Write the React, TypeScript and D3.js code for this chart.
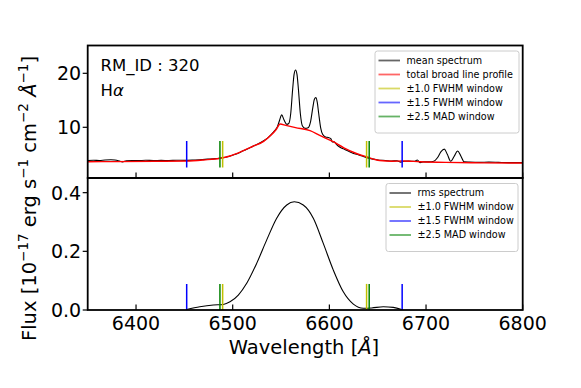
import React from "react";
import * as d3 from "d3";

// ---------- data ----------
const xTicks = [6400, 6500, 6600, 6700, 6800];
const yTicksTop = [10, 20];
const yTicksBottom = [0.0, 0.2, 0.4];
const yTickLabelsBottom = ["0.0", "0.2", "0.4"];

// mean spectrum [wavelength, flux]
const meanWave = [
  6350, 6356, 6362, 6368, 6374, 6378, 6383, 6386, 6390, 6396, 6402, 6410, 6418, 6426, 6434,
  6442, 6450, 6458, 6466, 6474, 6482, 6490, 6496, 6502, 6508, 6514, 6520, 6526, 6532, 6536,
  6540, 6543, 6546, 6548.5, 6550.7, 6553, 6556, 6558, 6560, 6562, 6563.5, 6565, 6566.5, 6568,
  6570, 6572, 6575, 6578, 6580.5, 6583, 6584.5, 6586, 6587.5, 6589, 6591, 6593, 6596, 6599,
  6601.5, 6603, 6605, 6607.5, 6611, 6616, 6622, 6628, 6634, 6640, 6646, 6652, 6658, 6664,
  6670, 6674, 6677, 6682, 6688, 6691, 6694, 6697, 6703, 6708, 6712, 6715.5, 6719, 6722,
  6725.5, 6729, 6732.7, 6736, 6739.5, 6745, 6755, 6765, 6775, 6785, 6795, 6800,
];
const meanFlux = [
  3.85, 3.9, 3.85, 3.95, 4.0, 3.95, 3.75, 3.6, 3.8, 3.85, 3.82, 3.9, 3.85, 3.88, 3.85,
  3.9, 3.88, 3.92, 4.0, 4.1, 4.2, 4.35, 4.6, 4.95, 5.4, 5.9, 6.4, 6.9, 7.5, 8.0,
  8.7, 9.3, 10.0, 11.3, 12.3, 11.4, 10.55, 10.7, 12.5, 17.0, 19.8, 20.6, 19.8, 17.0,
  12.5, 10.3, 9.8, 9.9, 11.0, 13.8, 15.2, 15.5, 14.6, 12.5, 9.9, 8.7, 8.2, 8.1,
  7.9, 7.3, 7.3, 6.8, 6.3, 5.9, 5.4, 5.0, 4.7, 4.3, 4.1, 3.9, 3.85, 3.75,
  3.8, 3.55, 3.7, 3.75, 3.7, 3.95, 3.45, 3.6, 3.6, 3.7, 4.4, 5.5, 5.95, 5.0,
  3.7, 4.6, 5.6, 4.7, 3.6, 3.55, 3.5, 3.55, 3.5, 3.45, 3.45, 3.45,
];

// total broad line profile
const broadWave = [
  6350, 6380, 6420, 6452, 6470, 6487, 6497, 6510, 6520, 6532, 6540, 6545, 6549, 6555, 6565,
  6580, 6590, 6604, 6615, 6628, 6639, 6652, 6665, 6676, 6694, 6720, 6760, 6800,
];
const broadFlux = [
  3.63, 3.65, 3.7, 3.75, 3.95, 4.26, 4.69, 5.6, 6.4, 7.4, 8.6, 9.6, 10.6, 10.35, 9.95,
  9.37, 8.5, 7.33, 6.2, 5.15, 4.5, 3.85, 3.72, 3.76, 3.62, 3.5, 3.42, 3.39,
];

// rms spectrum
const rmsWave = [
  6452.4, 6466, 6480, 6490.3, 6497.2, 6505.8, 6514.5, 6524.8, 6535.2, 6545.5, 6555.9, 6563.7,
  6573, 6583.4, 6593.7, 6604.1, 6614.4, 6624.8, 6635.1, 6643.8, 6655.8, 6666.1, 6674.8,
];
const rmsFlux = [
  0.002, 0.011, 0.017, 0.019, 0.028, 0.051, 0.091, 0.159, 0.239, 0.313, 0.358, 0.369,
  0.358, 0.313, 0.227, 0.136, 0.062, 0.02, 0.006, 0.007, 0.011, 0.009, 0.002,
];

// window edges
const fwhm10 = [6489.6, 6638.5];
const fwhm15 = [6452.4, 6675.3];
const mad25 = [6486.8, 6641.2];
const topMarkerRange = [2.56, 7.46];
const bottomMarkerRange = [0, 0.089];

const topLegend = [
  { label: "mean spectrum", color: "#000000" },
  { label: "total broad line profile", color: "#ff0000" },
  { label: "\u00b11.0 FWHM window", color: "#bfbf00" },
  { label: "\u00b11.5 FWHM window", color: "#0000ff" },
  { label: "\u00b12.5 MAD window", color: "#008000" },
];
const bottomLegend = [
  { label: "rms spectrum", color: "#000000" },
  { label: "\u00b11.0 FWHM window", color: "#bfbf00" },
  { label: "\u00b11.5 FWHM window", color: "#0000ff" },
  { label: "\u00b12.5 MAD window", color: "#008000" },
];

// ---------- layout ----------
const W = 581;
const H = 388;
const L = 87.7;
const R = 522.7;
const T1 = 45.5;
const MID = 178;
const B2 = 310;
const FONT = "DejaVu Sans, sans-serif";

export default function App() {
  const x = d3.scaleLinear().domain([6350, 6800]).range([L, R]);
  const yT = d3.scaleLinear().domain([0.61, 25.15]).range([MID, T1]);
  const yB = d3.scaleLinear().domain([0, 0.45]).range([B2, MID]);

  const meanPts = meanWave.map((w, i) => [w, meanFlux[i]] as [number, number]);
  const broadPts = broadWave.map((w, i) => [w, broadFlux[i]] as [number, number]);
  const rmsPts = rmsWave.map((w, i) => [w, rmsFlux[i]] as [number, number]);

  const lineT = d3
    .line<[number, number]>()
    .x((d) => x(d[0]))
    .y((d) => yT(d[1]))
    .curve(d3.curveMonotoneX);
  const lineB = d3
    .line<[number, number]>()
    .x((d) => x(d[0]))
    .y((d) => yB(d[1]))
    .curve(d3.curveMonotoneX);

  const markers = (yScale: any, range: number[], key: string) => (
    <g key={key}>
      {mad25.map((w, i) => (
        <line key={"g" + i} x1={x(w)} x2={x(w)} y1={yScale(range[0])} y2={yScale(range[1])} stroke="#008000" strokeWidth={1.5} />
      ))}
      {fwhm10.map((w, i) => (
        <line key={"y" + i} x1={x(w)} x2={x(w)} y1={yScale(range[0])} y2={yScale(range[1])} stroke="#bfbf00" strokeWidth={1.5} />
      ))}
      {fwhm15.map((w, i) => (
        <line key={"b" + i} x1={x(w)} x2={x(w)} y1={yScale(range[0])} y2={yScale(range[1])} stroke="#0000ff" strokeWidth={1.5} />
      ))}
    </g>
  );

  const legend = (items: { label: string; color: string }[], bx: number, by: number, bw: number) => {
    const rowH = 14;
    const bh = items.length * rowH + 12;
    return (
      <g>
        <rect x={bx} y={by} width={bw} height={bh} rx={2.5} fill="white" fillOpacity={0.8} stroke="#cccccc" strokeWidth={1} />
        {items.map((it, i) => {
          const cy = by + 9.5 + i * rowH;
          return (
            <g key={i}>
              <line x1={bx + 3.5} x2={bx + 25} y1={cy} y2={cy} stroke={it.color} strokeWidth={1.8} strokeOpacity={0.6} />
              <text x={bx + 31.5} y={cy} dy="0.35em" fontSize={9.6} fontFamily={FONT} fill="#000">
                {it.label}
              </text>
            </g>
          );
        })}
      </g>
    );
  };

  return (
    <svg width={W} height={H} style={{ position: "absolute", left: 0, top: 0, background: "white" }}>
      <defs>
        <clipPath id="clipTop">
          <rect x={L} y={T1} width={R - L} height={MID - T1} />
        </clipPath>
        <clipPath id="clipBot">
          <rect x={L} y={MID} width={R - L} height={B2 - MID} />
        </clipPath>
      </defs>

      {/* top panel */}
      <g clipPath="url(#clipTop)">
        <path d={lineT(meanPts) || ""} fill="none" stroke="#000" strokeWidth={1.1} />
        <path d={lineT(broadPts) || ""} fill="none" stroke="#ff0000" strokeWidth={1.4} />
        {markers(yT, topMarkerRange, "mt")}
      </g>

      {/* bottom panel */}
      <g clipPath="url(#clipBot)">
        <path d={lineB(rmsPts) || ""} fill="none" stroke="#000" strokeWidth={1.1} />
        {markers(yB, bottomMarkerRange, "mb")}
      </g>

      {/* ticks: x inward */}
      {xTicks.map((t) => (
        <g key={"xt" + t}>
          <line x1={x(t)} x2={x(t)} y1={MID} y2={MID - 5.5} stroke="#000" strokeWidth={1.2} />
          <line x1={x(t)} x2={x(t)} y1={B2} y2={B2 - 5.5} stroke="#000" strokeWidth={1.2} />
          <text x={x(t)} y={329.5} textAnchor="middle" fontSize={19} fontFamily={FONT} fill="#000">
            {t}
          </text>
        </g>
      ))}

      {/* y ticks outward */}
      {yTicksTop.map((t) => (
        <g key={"yt" + t}>
          <line x1={L} x2={L - 5} y1={yT(t)} y2={yT(t)} stroke="#000" strokeWidth={1.2} />
          <text x={L - 6.5} y={yT(t)} dy="0.36em" textAnchor="end" fontSize={19} fontFamily={FONT} fill="#000">
            {t}
          </text>
        </g>
      ))}
      {yTicksBottom.map((t, i) => (
        <g key={"yb" + t}>
          <line x1={L} x2={L - 5} y1={yB(t)} y2={yB(t)} stroke="#000" strokeWidth={1.2} />
          <text x={L - 6.5} y={yB(t)} dy="0.36em" textAnchor="end" fontSize={19} fontFamily={FONT} fill="#000">
            {yTickLabelsBottom[i]}
          </text>
        </g>
      ))}

      {/* frames */}
      <rect x={L} y={T1} width={R - L} height={MID - T1} fill="none" stroke="#000" strokeWidth={1.8} />
      <rect x={L} y={MID} width={R - L} height={B2 - MID} fill="none" stroke="#000" strokeWidth={1.8} />

      {/* annotations */}
      <text x={100.5} y={71} fontSize={16.5} fontFamily={FONT} fill="#000">
        RM_ID : 320
      </text>
      <text x={100.5} y={96} fontSize={16.5} fontFamily={FONT} fill="#000">
        H<tspan fontStyle="italic">α</tspan>
      </text>

      {legend(topLegend, 375, 51, 144)}
      {legend(bottomLegend, 386, 183.5, 132)}

      {/* axis labels */}
      <text x={304} y={353.5} textAnchor="middle" fontSize={19.5} fontFamily={FONT} fill="#000">
        Wavelength [<tspan fontStyle="italic">Å</tspan>]
      </text>
      <text transform="translate(36,198.5) rotate(-90)" textAnchor="middle" fontSize={19.5} fontFamily={FONT} fill="#000">
        Flux [10
        <tspan fontSize={13.5} dy={-8}>−17</tspan>
        <tspan dy={8}> erg s</tspan>
        <tspan fontSize={13.5} dy={-8}>−1</tspan>
        <tspan dy={8}> cm</tspan>
        <tspan fontSize={13.5} dy={-8}>−2</tspan>
        <tspan dy={8}> </tspan>
        <tspan fontStyle="italic">Å</tspan>
        <tspan fontSize={13.5} dy={-8}>−1</tspan>
        <tspan dy={8}>]</tspan>
      </text>
    </svg>
  );
}
